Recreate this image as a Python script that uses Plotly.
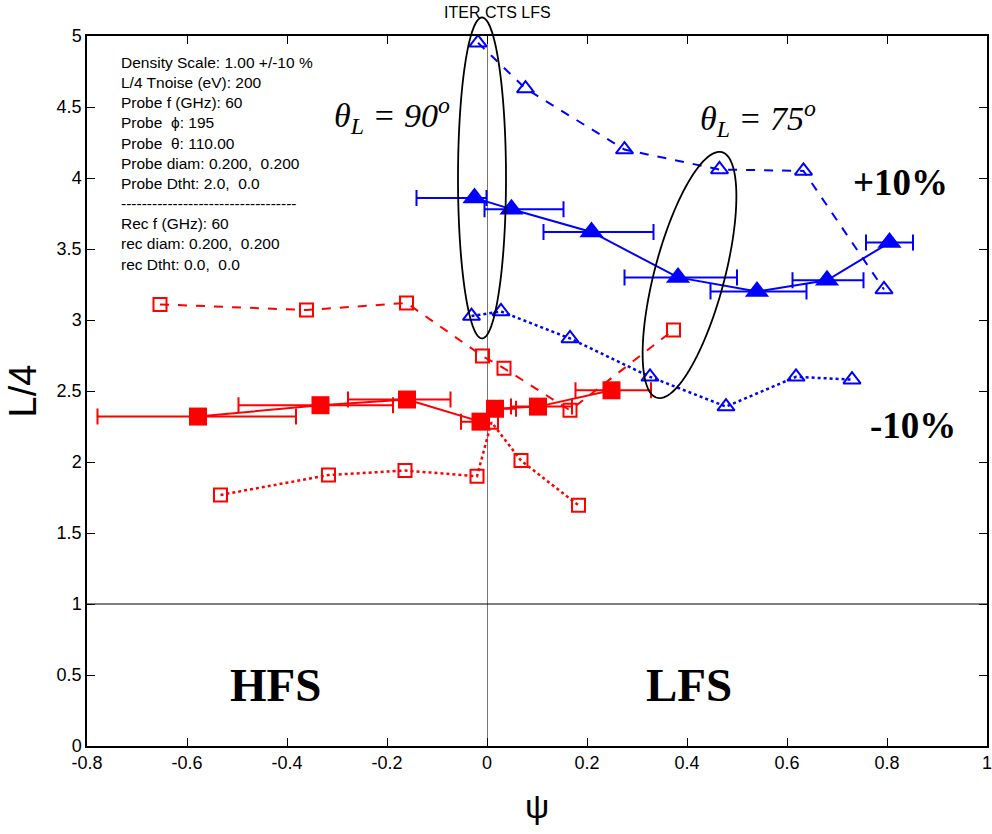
import numpy as np
import plotly.graph_objects as go

# ---------------- data ----------------
# Blue, +10% density (dashed, open triangles)
blue_plus_x = [-0.018, 0.077, 0.275, 0.465, 0.633, 0.794]
blue_plus_y = [4.953, 4.63, 4.20, 4.06, 4.05, 3.215]
# Blue, -10% density (dotted, open triangles)
blue_minus_x = [-0.031, 0.028, 0.166, 0.326, 0.478, 0.618, 0.730]
blue_minus_y = [3.028, 3.06, 2.87, 2.60, 2.39, 2.60, 2.58]
# Blue, nominal (solid, filled triangles, horizontal ranges)
blue_nom_x = [-0.025, 0.049, 0.209, 0.382, 0.540, 0.680, 0.805]
blue_nom_y = [3.86, 3.78, 3.62, 3.30, 3.20, 3.28, 3.545]
blue_nom_lo = [-0.141, -0.005, 0.113, 0.275, 0.447, 0.611, 0.758]
blue_nom_hi = [-0.001, 0.153, 0.333, 0.500, 0.639, 0.753, 0.852]

# Red, +10% density (dashed, open squares)
red_plus_x = [-0.654, -0.361, -0.161, -0.009, 0.034, 0.166, 0.373]
red_plus_y = [3.11, 3.07, 3.12, 2.746, 2.66, 2.364, 2.93]
# Red, -10% density (dotted, open squares)
red_minus_x = [-0.533, -0.317, -0.164, -0.020, 0.009, 0.068, 0.183]
red_minus_y = [1.768, 1.908, 1.94, 1.90, 2.28, 2.01, 1.695]
# Red, nominal (solid, filled squares, horizontal ranges)
red_nom_x = [-0.578, -0.333, -0.160, -0.013, 0.016, 0.102, 0.249]
red_nom_y = [2.32, 2.40, 2.44, 2.284, 2.375, 2.39, 2.505]
red_nom_lo = [-0.779, -0.497, -0.278, -0.052, 0.001, 0.048, 0.177]
red_nom_hi = [-0.382, -0.188, -0.073, 0.004, 0.058, 0.170, 0.328]

x_tick_vals = [-0.8, -0.6, -0.4, -0.2, 0, 0.2, 0.4, 0.6, 0.8, 1]
x_tick_text = ["-0.8", "-0.6", "-0.4", "-0.2", "0", "0.2", "0.4", "0.6", "0.8", "1"]
y_tick_vals = [0, 0.5, 1, 1.5, 2, 2.5, 3, 3.5, 4, 4.5, 5]
y_tick_text = ["0", "0.5", "1", "1.5", "2", "2.5", "3", "3.5", "4", "4.5", "5"]

info_lines = [
    "Density Scale: 1.00 +/-10 %",
    "L/4 Tnoise (eV): 200",
    "Probe f (GHz): 60",
    "Probe  \u03d5: 195",
    "Probe  \u03b8: 110.00",
    "Probe diam: 0.200,  0.200",
    "Probe Dtht: 2.0,  0.0",
    "----------------------------------",
    "Rec f (GHz): 60",
    "rec diam: 0.200,  0.200",
    "rec Dtht: 0.0,  0.0",
]

XR = [-0.8, 1.0]
YR = [0.0, 5.0]
W, H = 992, 834
ML, MR, MT, MB = 87, 5, 36, 88
PW, PH = W - ML - MR, H - MT - MB

BLUE = "#0000FF"
RED = "#FF0000"

fig = go.Figure()


def errs(x, lo, hi):
    plus = [h - v for v, h in zip(x, hi)]
    minus = [v - l for v, l in zip(x, lo)]
    return plus, minus


# blue series
fig.add_trace(go.Scatter(x=blue_plus_x, y=blue_plus_y, mode="lines+markers",
                         line=dict(color=BLUE, width=2, dash="dash"),
                         marker=dict(symbol="triangle-up-open", size=15, color=BLUE,
                                     line=dict(width=2, color=BLUE)),
                         showlegend=False))
fig.add_trace(go.Scatter(x=blue_minus_x, y=blue_minus_y, mode="lines+markers",
                         line=dict(color=BLUE, width=2.5, dash="dot"),
                         marker=dict(symbol="triangle-up-open", size=15, color=BLUE,
                                     line=dict(width=2, color=BLUE)),
                         showlegend=False))
bp, bm = errs(blue_nom_x, blue_nom_lo, blue_nom_hi)
fig.add_trace(go.Scatter(x=blue_nom_x, y=blue_nom_y, mode="lines+markers",
                         line=dict(color=BLUE, width=2),
                         marker=dict(symbol="triangle-up", size=21, color=BLUE),
                         error_x=dict(type="data", symmetric=False, array=bp, arrayminus=bm,
                                      color=BLUE, thickness=2, width=8),
                         showlegend=False))

# red series
fig.add_trace(go.Scatter(x=red_plus_x, y=red_plus_y, mode="lines+markers",
                         line=dict(color=RED, width=2, dash="dash"),
                         marker=dict(symbol="square-open", size=13, color=RED,
                                     line=dict(width=2, color=RED)),
                         showlegend=False))
fig.add_trace(go.Scatter(x=red_minus_x, y=red_minus_y, mode="lines+markers",
                         line=dict(color=RED, width=2.5, dash="dot"),
                         marker=dict(symbol="square-open", size=13, color=RED,
                                     line=dict(width=2, color=RED)),
                         showlegend=False))
rp, rm = errs(red_nom_x, red_nom_lo, red_nom_hi)
fig.add_trace(go.Scatter(x=red_nom_x, y=red_nom_y, mode="lines+markers",
                         line=dict(color=RED, width=2),
                         marker=dict(symbol="square", size=18, color=RED),
                         error_x=dict(type="data", symmetric=False, array=rp, arrayminus=rm,
                                      color=RED, thickness=2, width=8),
                         showlegend=False))


# ---------------- ellipses (paper coords) ----------------
def to_paper(x, y):
    return (x - XR[0]) / (XR[1] - XR[0]), (y - YR[0]) / (YR[1] - YR[0])


def ellipse_path(cx, cy, a_px, b_px, tilt_deg, n=120):
    # cx, cy in data units; a (along tilted vertical), b in pixels
    px0, py0 = to_paper(cx, cy)
    t = np.linspace(0, 2 * np.pi, n)
    th = np.radians(tilt_deg)
    ux, uy = np.sin(th), np.cos(th)   # major axis direction (pixel, y up)
    vx, vy = np.cos(th), -np.sin(th)
    dx = a_px * np.cos(t) * ux + b_px * np.sin(t) * vx
    dy = a_px * np.cos(t) * uy + b_px * np.sin(t) * vy
    xs = px0 + dx / PW
    ys = py0 + dy / PH
    return "M " + " L ".join(f"{x:.5f},{y:.5f}" for x, y in zip(xs, ys)) + " Z"


shapes = [
    dict(type="path", xref="paper", yref="paper",
         path=ellipse_path(-0.010, 4.0, 160.5, 24, 0), line=dict(color="black", width=1.8)),
    dict(type="path", xref="paper", yref="paper",
         path=ellipse_path(0.405, 3.317, 127, 35, 14.8), line=dict(color="black", width=1.8)),
    dict(type="line", xref="paper", yref="y", x0=0, x1=1, y0=1, y1=1,
         line=dict(color="black", width=1)),
]

serif = "Liberation Serif, Times New Roman, serif"
sans = "Liberation Sans, Arial, sans-serif"

annotations = [
    dict(x=0.4556, y=1.0338, xref="paper", yref="paper", text="ITER CTS LFS",
         showarrow=False, xanchor="center", yanchor="middle",
         font=dict(family=sans, size=16, color="black")),
    dict(x=-0.736, y=4.885, xref="x", yref="y", text="<br>".join(info_lines),
         showarrow=False, xanchor="left", yanchor="top", align="left",
         font=dict(family=sans, size=15.5, color="black")),
    dict(x=-0.191, y=4.44, xref="x", yref="y",
         text="<i>\u03b8<sub>L</sub> = 90<sup>o</sup></i>", showarrow=False,
         font=dict(family=serif, size=34, color="black")),
    dict(x=0.542, y=4.42, xref="x", yref="y",
         text="<i>\u03b8<sub>L</sub> = 75<sup>o</sup></i>", showarrow=False,
         font=dict(family=serif, size=34, color="black")),
    dict(x=0.827, y=3.97, xref="x", yref="y", text="<b>+10%</b>", showarrow=False,
         font=dict(family=serif, size=37, color="black")),
    dict(x=0.851, y=2.26, xref="x", yref="y", text="<b>-10%</b>", showarrow=False,
         font=dict(family=serif, size=37, color="black")),
    dict(x=-0.423, y=0.43, xref="x", yref="y", text="<b>HFS</b>", showarrow=False,
         font=dict(family=serif, size=47, color="black")),
    dict(x=0.403, y=0.43, xref="x", yref="y", text="<b>LFS</b>", showarrow=False,
         font=dict(family=serif, size=47, color="black")),
]

fig.update_layout(
    width=W, height=H,
    margin=dict(l=ML, r=MR, t=MT, b=MB, autoexpand=False),
    paper_bgcolor="white", plot_bgcolor="white",
    shapes=shapes, annotations=annotations,
    showlegend=False,
)
fig.update_xaxes(range=XR, tickvals=x_tick_vals, ticktext=x_tick_text,
                 ticks="inside", ticklen=8, tickcolor="black", mirror="ticks",
                 showline=True, linecolor="black", linewidth=1.5, showgrid=False,
                 zeroline=True, zerolinecolor="#777777", zerolinewidth=1,
                 automargin=False, ticklabeloverflow="allow",
                 tickfont=dict(family=sans, size=18, color="black"),
                 title=dict(text="\u03c8", font=dict(family=sans, size=34, color="black"),
                            standoff=22))
fig.update_yaxes(range=YR, tickvals=y_tick_vals, ticktext=y_tick_text,
                 ticks="inside", ticklen=8, tickcolor="black", mirror="ticks",
                 showline=True, linecolor="black", linewidth=1.5, showgrid=False,
                 zeroline=False, automargin=False, ticklabeloverflow="allow",
                 tickfont=dict(family=sans, size=18, color="black"),
                 title=dict(text="L/4", font=dict(family=sans, size=38, color="black"),
                            standoff=8))

fig.write_html("out.html", config={"displayModeBar": False},
               post_script="document.body.style.margin='0';document.body.style.overflow='hidden';")
